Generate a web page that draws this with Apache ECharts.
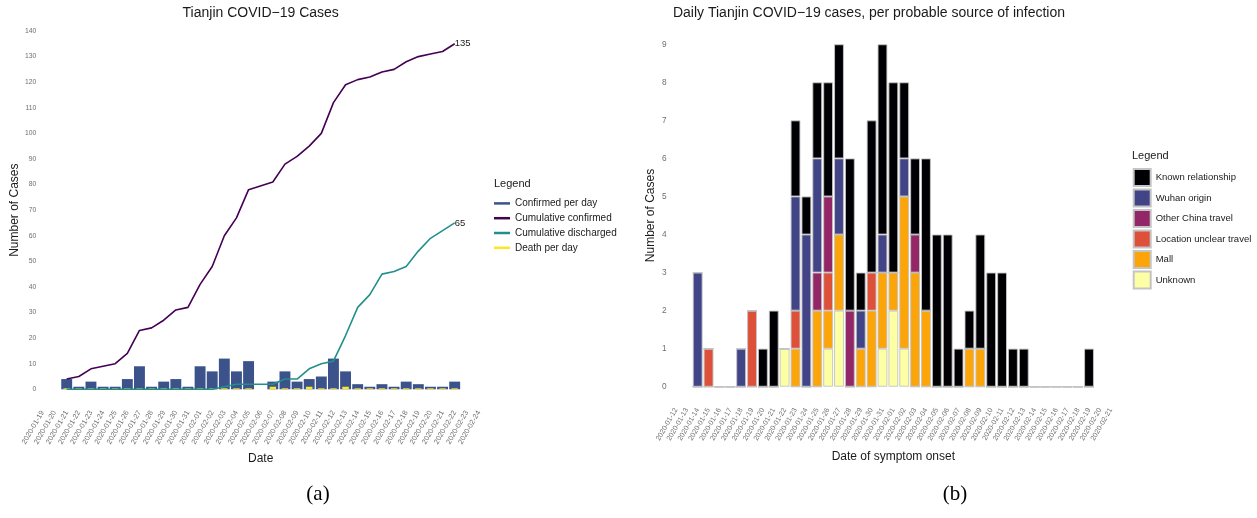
<!DOCTYPE html>
<html><head><meta charset="utf-8">
<script src="https://cdn.jsdelivr.net/npm/echarts@6/dist/echarts.min.js"></script>
<style>html,body{margin:0;padding:0;background:#fff}#c{width:1257px;height:518px}</style>
</head><body><div id="c"></div>
<script>
// ---- Panel (a) ----
const ticksA = ['2020-01-19','2020-01-20','2020-01-21','2020-01-22','2020-01-23','2020-01-24','2020-01-25','2020-01-26','2020-01-27','2020-01-28','2020-01-29','2020-01-30','2020-01-31','2020-02-01','2020-02-02','2020-02-03','2020-02-04','2020-02-05','2020-02-06','2020-02-07','2020-02-08','2020-02-09','2020-02-10','2020-02-11','2020-02-12','2020-02-13','2020-02-14','2020-02-15','2020-02-16','2020-02-17','2020-02-18','2020-02-19','2020-02-20','2020-02-21','2020-02-22','2020-02-23','2020-02-24'];
const datesA = ['2020-01-21','2020-01-22','2020-01-23','2020-01-24','2020-01-25','2020-01-26','2020-01-27','2020-01-28','2020-01-29','2020-01-30','2020-01-31','2020-02-01','2020-02-02','2020-02-03','2020-02-04','2020-02-05','2020-02-06','2020-02-07','2020-02-08','2020-02-09','2020-02-10','2020-02-11','2020-02-12','2020-02-13','2020-02-14','2020-02-15','2020-02-16','2020-02-17','2020-02-18','2020-02-19','2020-02-20','2020-02-21','2020-02-22'];
const confirmedPerDay = [4,1,3,1,1,4,9,1,3,4,1,9,7,12,7,11,null,3,7,3,4,5,12,7,2,1,2,1,3,2,1,1,3];
const cumulativeConfirmed = [4,5,8,9,10,14,23,24,27,31,32,41,48,60,67,78,null,81,88,91,95,100,112,119,121,122,124,125,128,130,131,132,135];
const cumulativeDischarged = [0,0,0,0,0,0,0,0,0,0,0,0,0,1,2,2,null,2,4,4,8,10,11,21,32,37,45,46,48,54,59,62,65];
const deathPerDay = [0,0,0,0,0,0,0,0,0,0,0,0,0,0,0,0,null,1,0,0,1,0,0,1,0,0,0,0,0,0,0,0,0];

// ---- Panel (b) ----
const ticksB = ['2020-01-12','2020-01-13','2020-01-14','2020-01-15','2020-01-16','2020-01-17','2020-01-18','2020-01-19','2020-01-20','2020-01-21','2020-01-22','2020-01-23','2020-01-24','2020-01-25','2020-01-26','2020-01-27','2020-01-28','2020-01-29','2020-01-30','2020-01-31','2020-02-01','2020-02-02','2020-02-03','2020-02-04','2020-02-05','2020-02-06','2020-02-07','2020-02-08','2020-02-09','2020-02-10','2020-02-11','2020-02-12','2020-02-13','2020-02-14','2020-02-15','2020-02-16','2020-02-17','2020-02-18','2020-02-19','2020-02-20','2020-02-21'];
const datesB = ['2020-01-14','2020-01-15','2020-01-16','2020-01-17','2020-01-18','2020-01-19','2020-01-20','2020-01-21','2020-01-22','2020-01-23','2020-01-24','2020-01-25','2020-01-26','2020-01-27','2020-01-28','2020-01-29','2020-01-30','2020-01-31','2020-02-01','2020-02-02','2020-02-03','2020-02-04','2020-02-05','2020-02-06','2020-02-07','2020-02-08','2020-02-09','2020-02-10','2020-02-11','2020-02-12','2020-02-13','2020-02-14','2020-02-15','2020-02-16','2020-02-17','2020-02-18','2020-02-19'];
const knownRelationship = [0,0,0,0,0,0,1,2,0,2,1,2,3,3,4,1,4,5,5,2,2,4,4,4,1,1,3,3,3,1,1,0,0,0,0,0,1];
const wuhanOrigin       = [3,0,0,0,1,0,0,0,0,3,4,3,0,2,0,1,0,1,0,1,0,0,0,0,0,0,0,0,0,0,0,0,0,0,0,0,0];
const otherChinaTravel  = [0,0,0,0,0,0,0,0,0,0,0,1,2,0,2,0,0,0,0,0,1,0,0,0,0,0,0,0,0,0,0,0,0,0,0,0,0];
const locationUnclear   = [0,1,0,0,0,2,0,0,0,1,0,0,1,0,0,0,1,0,0,0,0,0,0,0,0,0,0,0,0,0,0,0,0,0,0,0,0];
const mall              = [0,0,0,0,0,0,0,0,0,1,0,2,1,2,0,1,2,2,1,4,3,2,0,0,0,1,1,0,0,0,0,0,0,0,0,0,0];
const unknown           = [0,0,0,0,0,0,0,0,1,0,0,0,1,2,0,0,0,1,2,1,0,0,0,0,0,0,0,0,0,0,0,0,0,0,0,0,0];
const yTicksA = [0,140,10];
const yTicksB = [0,9,1];

const FONT = 'Liberation Sans, Arial, Helvetica, sans-serif';
const pairs = (dates, vals) => dates.map((d, i) => [d, vals[i]]);
const GREY = '#6f6f6f';

const stackDefs = [
  ['Unknown', unknown, '#FCFFA4'],
  ['Mall', mall, '#FCA50A'],
  ['Location unclear travel', locationUnclear, '#DD513A'],
  ['Other China travel', otherChinaTravel, '#932667'],
  ['Wuhan origin', wuhanOrigin, '#414487'],
  ['Known relationship', knownRelationship, '#000004']
];

const chart = echarts.init(document.getElementById('c'), null, {renderer: 'canvas'});
const option = {
  animation: false,
  textStyle: {fontFamily: FONT},
  title: [
    {text: 'Tianjin COVID\u221219 Cases', left: 260.7, top: 6, textAlign: 'center', padding: 0,
     textStyle: {fontSize: 14, fontWeight: 'normal', color: '#1a1a1a', fontFamily: FONT}},
    {text: 'Daily Tianjin COVID\u221219 cases, per probable source of infection', left: 869, top: 6, textAlign: 'center', padding: 0,
     textStyle: {fontSize: 14, fontWeight: 'normal', color: '#1a1a1a', fontFamily: FONT}},
    {text: 'Legend', left: 494, top: 178, padding: 0, textStyle: {fontSize: 11, fontWeight: 'normal', color: '#1a1a1a', fontFamily: FONT}},
    {text: 'Legend', left: 1132, top: 150, padding: 0, textStyle: {fontSize: 11, fontWeight: 'normal', color: '#1a1a1a', fontFamily: FONT}},
    {text: '(a)', left: 318, top: 484, textAlign: 'center', padding: 0,
     textStyle: {fontSize: 21, fontWeight: 'normal', color: '#000', fontFamily: 'Liberation Serif, DejaVu Serif, serif'}},
    {text: '(b)', left: 955, top: 484, textAlign: 'center', padding: 0,
     textStyle: {fontSize: 21, fontWeight: 'normal', color: '#000', fontFamily: 'Liberation Serif, DejaVu Serif, serif'}}
  ],
  legend: [
    {orient: 'vertical', left: 494, top: 197, padding: 0, icon: 'rect', itemWidth: 16, itemHeight: 2.5, itemGap: 2,
     selectedMode: false,
     textStyle: {fontSize: 10, color: '#1a1a1a', lineHeight: 12.8, fontFamily: FONT},
     data: ['Confirmed per day', 'Cumulative confirmed', 'Cumulative discharged', 'Death per day']},
    {orient: 'vertical', left: 1132.7, top: 168, padding: 0, icon: 'rect', itemWidth: 17, itemHeight: 17, itemGap: 1.5,
     selectedMode: false,
     textStyle: {fontSize: 9.5, color: '#1a1a1a', fontFamily: FONT},
     data: ['Known relationship', 'Wuhan origin', 'Other China travel', 'Location unclear travel', 'Mall', 'Unknown']}
  ],
  grid: [
    {left: 36.4, right: 772, top: 31, bottom: 128.7},
    {left: 670.5, right: 140.8, top: 44.3, bottom: 131.3}
  ],
  xAxis: [
    {type: 'category', gridIndex: 0, data: ticksA, boundaryGap: true,
     axisLine: {show: false}, axisTick: {show: false},
     axisLabel: {interval: 0, rotate: 60, fontSize: 7.3, color: GREY, margin: 22},
     name: 'Date', nameLocation: 'middle', nameGap: 59, nameTextStyle: {fontSize: 12, color: '#1a1a1a'}},
    {type: 'category', gridIndex: 0, data: ticksA, show: false},
    {type: 'category', gridIndex: 1, data: ticksB, boundaryGap: true,
     axisLine: {show: false}, axisTick: {show: false},
     axisLabel: {interval: 0, rotate: 60, fontSize: 7.1, color: GREY, margin: 22},
     name: 'Date of symptom onset', nameLocation: 'middle', nameGap: 64, nameTextStyle: {fontSize: 12, color: '#1a1a1a'}}
  ],
  yAxis: [
    {type: 'value', gridIndex: 0, min: yTicksA[0], max: yTicksA[1], interval: yTicksA[2],
     splitLine: {show: false}, axisLine: {show: false}, axisTick: {show: false},
     axisLabel: {fontSize: 6.8, color: GREY, margin: 0},
     name: 'Number of Cases', nameLocation: 'middle', nameGap: 15.5, nameRotate: 90, nameTextStyle: {fontSize: 12, color: '#1a1a1a'}},
    {type: 'value', gridIndex: 1, min: yTicksB[0], max: yTicksB[1], interval: yTicksB[2],
     splitLine: {show: false}, axisLine: {show: false}, axisTick: {show: false},
     axisLabel: {fontSize: 8.3, color: GREY, margin: 4},
     name: 'Number of Cases', nameLocation: 'middle', nameGap: 13.5, nameRotate: 90, nameTextStyle: {fontSize: 12, color: '#1a1a1a'}}
  ],
  series: [
    {name: 'Confirmed per day', type: 'bar', xAxisIndex: 0, yAxisIndex: 0, barCategoryGap: '10%',
     itemStyle: {color: '#3B528B'}, data: pairs(datesA, confirmedPerDay)},
    {name: 'Death per day', type: 'bar', xAxisIndex: 1, yAxisIndex: 0, barWidth: 6.5, barMinHeight: 1,
     itemStyle: {color: '#FDE725'}, data: pairs(datesA, deathPerDay)},
    {name: 'Cumulative confirmed', type: 'line', xAxisIndex: 0, yAxisIndex: 0, showSymbol: false, symbol: 'none',
     connectNulls: true, lineStyle: {color: '#440154', width: 1.6}, itemStyle: {color: '#440154'},
     endLabel: {show: true, distance: 0, fontSize: 9.5, color: '#222', formatter: p => p.value[1]},
     data: pairs(datesA, cumulativeConfirmed)},
    {name: 'Cumulative discharged', type: 'line', xAxisIndex: 0, yAxisIndex: 0, showSymbol: false, symbol: 'none',
     connectNulls: true, lineStyle: {color: '#21908C', width: 1.6}, itemStyle: {color: '#21908C'},
     endLabel: {show: true, distance: 0, fontSize: 9.5, color: '#222', formatter: p => p.value[1]},
     data: pairs(datesA, cumulativeDischarged)}
  ].concat(stackDefs.map(([name, vals, color]) => ({
    name, type: 'bar', stack: 'src', xAxisIndex: 2, yAxisIndex: 1, barCategoryGap: '10%',
    itemStyle: {color, borderColor: '#c4c4c4', borderWidth: 0.9},
    data: pairs(datesB, vals)
  })))
};
chart.setOption(option);
</script></body></html>
